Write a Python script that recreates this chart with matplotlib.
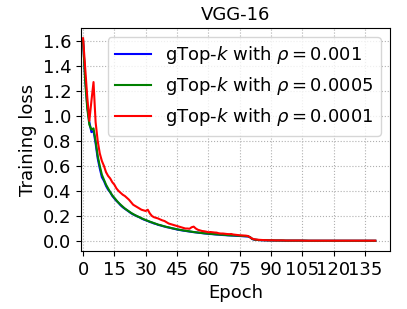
import matplotlib
matplotlib.use('Agg')
import matplotlib.pyplot as plt
import numpy as np

# training loss per epoch
loss_1e3 = [1.60, 1.30, 1.08, 0.95, 0.87, 0.88, 0.78, 0.66, 0.58, 0.51,
            0.48, 0.44, 0.41, 0.39, 0.36, 0.34, 0.32, 0.305, 0.285, 0.27,
            0.258, 0.245, 0.235, 0.222, 0.212, 0.205, 0.196, 0.19, 0.18, 0.172,
            0.166, 0.16, 0.152, 0.147, 0.14, 0.136, 0.129, 0.125, 0.12, 0.116,
            0.111, 0.108, 0.104, 0.1, 0.096, 0.092, 0.089, 0.086, 0.083, 0.081,
            0.078, 0.076, 0.073, 0.071, 0.069, 0.067, 0.065, 0.063, 0.061, 0.059,
            0.058, 0.056, 0.055, 0.053, 0.052, 0.051, 0.049, 0.048, 0.047, 0.046,
            0.045, 0.044, 0.043, 0.042, 0.041, 0.040, 0.039, 0.038, 0.037, 0.036,
            0.030, 0.016, 0.011, 0.009, 0.008, 0.007, 0.006, 0.006, 0.005, 0.005,
            0.005, 0.004, 0.004, 0.004, 0.004, 0.004, 0.003, 0.003, 0.003, 0.003,
            0.003, 0.003, 0.003, 0.003, 0.003, 0.003, 0.003, 0.002, 0.002, 0.002,
            0.002, 0.002, 0.002, 0.002, 0.002, 0.002, 0.002, 0.002, 0.002, 0.002,
            0.002, 0.002, 0.002, 0.002, 0.002, 0.002, 0.002, 0.002, 0.002, 0.002,
            0.002, 0.002, 0.002, 0.002, 0.002, 0.002, 0.002, 0.002, 0.002, 0.002,
            0.002]
loss_5e4 = [1.60, 1.28, 1.06, 0.93, 0.89, 0.90, 0.80, 0.68, 0.60, 0.53,
            0.49, 0.45, 0.42, 0.39, 0.365, 0.345, 0.325, 0.305, 0.29, 0.275,
            0.26, 0.248, 0.237, 0.225, 0.215, 0.206, 0.198, 0.19, 0.182, 0.175,
            0.168, 0.161, 0.155, 0.149, 0.143, 0.137, 0.131, 0.127, 0.122, 0.117,
            0.113, 0.109, 0.105, 0.101, 0.098, 0.094, 0.091, 0.088, 0.085, 0.082,
            0.080, 0.077, 0.075, 0.072, 0.070, 0.068, 0.066, 0.064, 0.062, 0.061,
            0.059, 0.058, 0.056, 0.055, 0.053, 0.052, 0.051, 0.050, 0.049, 0.047,
            0.046, 0.045, 0.045, 0.044, 0.043, 0.042, 0.041, 0.040, 0.039, 0.038,
            0.031, 0.017, 0.012, 0.010, 0.008, 0.007, 0.007, 0.006, 0.006, 0.005,
            0.005, 0.005, 0.004, 0.004, 0.004, 0.004, 0.004, 0.003, 0.003, 0.003,
            0.003, 0.003, 0.003, 0.003, 0.003, 0.003, 0.003, 0.003, 0.002, 0.002,
            0.002, 0.002, 0.002, 0.002, 0.002, 0.002, 0.002, 0.002, 0.002, 0.002,
            0.002, 0.002, 0.002, 0.002, 0.002, 0.002, 0.002, 0.002, 0.002, 0.002,
            0.002, 0.002, 0.002, 0.002, 0.002, 0.002, 0.002, 0.002, 0.002, 0.002,
            0.002]
loss_1e4 = [1.62, 1.38, 1.15, 0.96, 1.12, 1.27, 0.95, 0.80, 0.70, 0.64,
            0.60, 0.55, 0.52, 0.50, 0.47, 0.45, 0.42, 0.40, 0.385, 0.37,
            0.36, 0.345, 0.33, 0.31, 0.29, 0.28, 0.27, 0.26, 0.25, 0.245,
            0.24, 0.25, 0.22, 0.20, 0.19, 0.185, 0.18, 0.172, 0.165, 0.16,
            0.15, 0.14, 0.135, 0.13, 0.125, 0.12, 0.115, 0.11, 0.105, 0.10,
            0.10, 0.098, 0.11, 0.115, 0.10, 0.09, 0.085, 0.08, 0.078, 0.075,
            0.07, 0.072, 0.07, 0.068, 0.067, 0.062, 0.06, 0.06, 0.058, 0.056,
            0.055, 0.056, 0.052, 0.05, 0.048, 0.046, 0.045, 0.044, 0.043, 0.04,
            0.03, 0.02, 0.014, 0.012, 0.010, 0.009, 0.008, 0.007, 0.007, 0.006,
            0.006, 0.006, 0.005, 0.005, 0.005, 0.005, 0.005, 0.004, 0.004, 0.004,
            0.004, 0.004, 0.004, 0.004, 0.004, 0.004, 0.003, 0.003, 0.003, 0.003,
            0.003, 0.003, 0.003, 0.003, 0.003, 0.003, 0.003, 0.003, 0.003, 0.003,
            0.003, 0.003, 0.003, 0.003, 0.003, 0.003, 0.003, 0.003, 0.003, 0.003,
            0.003, 0.003, 0.003, 0.003, 0.003, 0.003, 0.003, 0.003, 0.003, 0.003,
            0.003]
epochs = list(range(len(loss_1e3)))
labels = [r'gTop-$k$ with $\rho=0.001$',
          r'gTop-$k$ with $\rho=0.0005$',
          r'gTop-$k$ with $\rho=0.0001$']
xticks = list(range(0, 136, 15))
yticks = [0.0, 0.2, 0.4, 0.6, 0.8, 1.0, 1.2, 1.4, 1.6]

fig = plt.figure(figsize=(4.07, 3.09), dpi=100)
ax = fig.add_subplot(111)
fig.subplots_adjust(left=0.199, right=0.958, top=0.909, bottom=0.188)

ax.plot(epochs, loss_1e3, color='b', label=labels[0])
ax.plot(epochs, loss_5e4, color='g', label=labels[1])
ax.plot(epochs, loss_1e4, color='r', label=labels[2])

ax.set_xticks(xticks)
ax.set_yticks(yticks)
ax.set_xlim(-1, 147)
ax.grid(linestyle=':')
ax.tick_params(labelsize=13)
ax.set_xlabel('Epoch', fontsize=13)
ax.set_ylabel('Training loss', fontsize=13)
ax.set_title('VGG-16', fontsize=13)
ax.legend(loc='upper right', fontsize=13)

plt.savefig('out.png')
